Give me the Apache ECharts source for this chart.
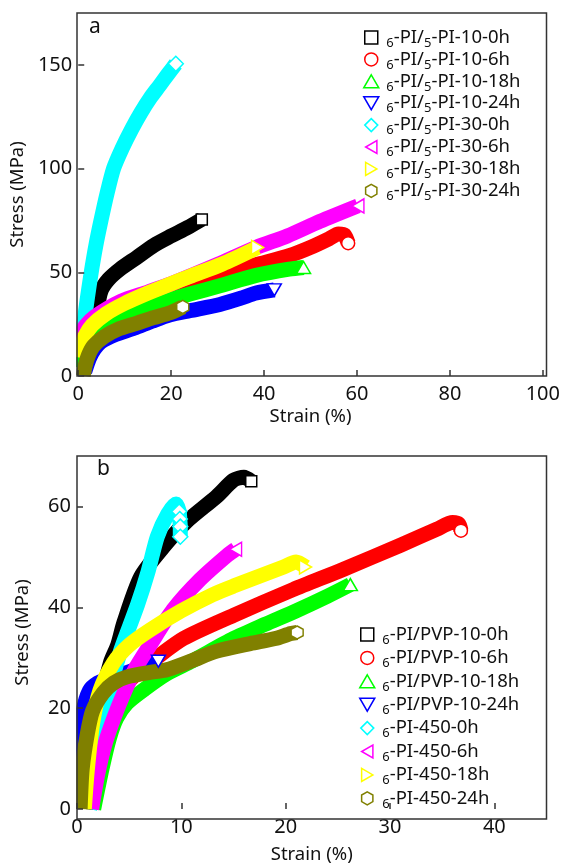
<!DOCTYPE html>
<html>
<head>
<meta charset="utf-8">
<script src="https://cdn.jsdelivr.net/npm/echarts@6/dist/echarts.min.js"></script>
<style>
html,body{margin:0;padding:0;background:#fff}
#chart{width:563px;height:865px}
</style>
</head>
<body>
<div id="chart"></div>
<script>
// ---- Panel a: 6-PI / 5-PI blends, points are [strain %, stress MPa] ----
const a_10_0h  = [[3.9,22],[4.2,33],[4.9,41],[6.5,46.5],[9,51.5],[12.5,57],[16.3,63],[20,67.5],[23.5,71.5],[26.6,75.5]];
const a_10_6h  = [[0,8],[1.5,15],[3,22],[6,28],[10,33],[15,37.5],[20,41.5],[25,45],[30.5,48.6],[38,53.5],[45.4,58],[50,62],[54,66.2],[56,68.5],[57.3,68],[58.1,64]];
const a_10_18h = [[0,4],[1,9],[2.5,15.5],[4.5,21.5],[7,26],[10,29],[12.7,31],[18,35.5],[24,39.5],[30.5,43.5],[38.3,48.5],[45.4,51.5],[48.5,52.3]];
const a_10_24h = [[1.4,2],[2.4,8.5],[3.5,13],[4.9,16.5],[8,20],[12,23],[16,26.5],[19.8,29.5],[24,31.5],[30.5,34.5],[35,37.5],[38.3,40],[42.2,41.5]];
const a_30_0h  = [[0,14],[0.5,19],[1.3,27],[2,38],[2.8,50],[3.8,63],[4.9,75],[6.2,88],[7.6,100],[9.5,110],[11.5,119],[13.5,127],[15.5,134],[17.5,140],[19.3,145.5],[21,150.5]];
const a_30_6h  = [[0,16.5],[0.7,20.5],[1.5,24],[3.5,28.5],[9.2,36],[15,40.5],[20,44.5],[30,53.8],[38.3,62],[45,67.5],[52,74.5],[60.2,82]];
const a_30_18h = [[0,9],[0.6,14],[1.5,19.5],[3,24.5],[6,30],[10,35],[15,40],[20,44.5],[24,48],[31,54],[38.6,62]];
const a_30_24h = [[1.1,0],[1.5,5],[2.2,10],[3.3,14.5],[5.6,19],[8.5,22.5],[12.7,25.5],[16,28],[19.8,30.5],[22.5,33.3]];

// ---- Panel b: 6-PI / PVP blends and 6-PI-450 ----
const b_pvp_0h  = [[0.8,0],[1.6,12],[2.4,22],[3.2,29],[3.9,32.5],[4.5,37],[6.1,46],[8.3,52],[10.5,57],[13.4,62],[15,65.2],[16,65.8],[16.7,65]];
const b_pvp_6h  = [[1.2,0],[2,10],[3,18],[4.5,24],[6,27.5],[7.3,29.5],[10.2,33.8],[15,38.4],[20.7,43.5],[25.5,47.5],[31,52.3],[34.5,55.5],[36,56.8],[36.6,56.5],[36.8,55.2]];
const b_pvp_18h = [[1.6,0],[2.4,8],[3.1,14],[3.8,18],[4.8,21],[6.5,23.8],[8.6,26.8],[11,29.3],[15,33.8],[18,36.6],[21,39.3],[24,42.2],[26.2,44.5]];
const b_pvp_24h = [[0,5],[0.2,12],[0.6,19.5],[1.2,23.5],[2,25],[3,25.8],[5,27.2],[7,28.7],[7.8,29.3]];
const b_450_0h  = [[1.2,0],[2,8],[2.6,18],[3.3,25],[4.2,31.5],[5.8,40.5],[6.8,47],[7.7,54],[8.7,58.5],[9.5,60.5],[9.8,59],[9.85,57.5],[9.9,56],[9.9,54]];
const b_450_6h  = [[1.4,0],[2,7],[2.7,13],[3.6,18.4],[4.5,23],[5.5,27.5],[7,32.5],[9.2,39.5],[11.8,45.5],[14.4,50.3],[15.2,51.5]];
const b_450_18h = [[0.7,0],[1.0,8],[1.5,17],[2.2,23.5],[3.5,29],[5,32.5],[7,35.5],[10,39.3],[13,42.5],[15,44.2],[19.8,48],[21,49],[21.9,48]];
const b_450_24h = [[0.3,0],[0.5,8],[1,15],[1.5,19.5],[2.5,23],[3.5,25],[4.8,26.2],[7.3,27.2],[8.6,27.6],[11,29.4],[13.4,31.3],[16.6,32.8],[19,33.8],[20.5,34.8],[21.1,35]];

// series names (legend order)
const aNames = ['6-PI/5-PI-10-0h','6-PI/5-PI-10-6h','6-PI/5-PI-10-18h','6-PI/5-PI-10-24h',
                '6-PI/5-PI-30-0h','6-PI/5-PI-30-6h','6-PI/5-PI-30-18h','6-PI/5-PI-30-24h'];
const bNames = ['6-PI/PVP-10-0h','6-PI/PVP-10-6h','6-PI/PVP-10-18h','6-PI/PVP-10-24h',
                '6-PI-450-0h','6-PI-450-6h','6-PI-450-18h','6-PI-450-24h'];
const aData = [a_10_0h,a_10_6h,a_10_18h,a_10_24h,a_30_0h,a_30_6h,a_30_18h,a_30_24h];
const bData = [b_pvp_0h,b_pvp_6h,b_pvp_18h,b_pvp_24h,b_450_0h,b_450_6h,b_450_18h,b_450_24h];
const bMarked = [1,1,1,1,4,1,1,1];   // how many trailing points carry an open marker

const colors = ['#000000','#ff0000','#00ff00','#0000ff','#00ffff','#ff00ff','#ffff00','#808000'];
const shapes = [
  'path://M0,0L10,0L10,10L0,10Z',                           // square
  'circle',
  'path://M5,0L10,8.66L0,8.66Z',                            // triangle up
  'path://M0,0L10,0L5,8.66Z',                               // triangle down
  'path://M5,0L10,5L5,10L0,5Z',                             // diamond
  'path://M8.66,0L8.66,10L0,5Z',                            // triangle left
  'path://M0,0L8.66,5L0,10Z',                               // triangle right
  'path://M5,0L9.33,2.5L9.33,7.5L5,10L0.67,7.5L0.67,2.5Z'   // hexagon
];
const markerSizes = [11, 13, [14, 12], [14, 12], 15, [12, 14], [12, 14], [12, 13]];

const FONT = 'Noto Sans';

function richLabel(name) {
  // leading "6" and the "5" after "PI/" are subscripts
  let m = name.match(/^6(-PI\/)5(-PI-.*)$/);
  if (m) return '{s|6}{n|' + m[1] + '}{s|5}{n|' + m[2] + '}';
  m = name.match(/^6(.*)$/);
  return '{s|6}{n|' + m[1] + '}';
}

function curve(name, i, pts, panel, marked) {
  const n = pts.length;
  return {
    type: 'line', name: name,
    xAxisIndex: panel, yAxisIndex: panel,
    smooth: 0.25, showSymbol: true, symbolSize: markerSizes[i],
    lineStyle: { color: colors[i], width: 15, cap: 'butt', join: 'round' },
    itemStyle: { color: '#ffffff', borderColor: colors[i], borderWidth: 1.5 },
    data: pts.map((p, k) => k >= n - marked ? { value: p, symbol: shapes[i] } : { value: p, symbol: 'none' }),
    emphasis: { disabled: true },
    z: 2
  };
}

function legendFor(names, left, top, gap) {
  return {
    orient: 'vertical', left: left, top: top, padding: 0,
    itemWidth: 20, itemHeight: 13, itemGap: gap, selectedMode: false,
    symbolKeepAspect: true,
    data: names.map((nm, i) => ({
      name: nm, icon: shapes[i],
      itemStyle: { color: '#ffffff', borderColor: colors[i], borderWidth: 1.5 }
    })),
    formatter: richLabel,
    textStyle: {
      color: '#111', fontFamily: FONT,
      rich: {
        n: { fontSize: 18.5, color: '#111', fontFamily: FONT },
        s: { fontSize: 13, color: '#111', fontFamily: FONT, padding: [11, 0, 0, 0] }
      }
    }
  };
}

function xAxisFor(panel, max, interval, showMax, gap) {
  return {
    gridIndex: panel, type: 'value', min: 0, max: max, interval: interval, z: 10,
    axisLine: { show: false },
    axisTick: { inside: true, length: 6, lineStyle: { color: '#333', width: 1.5 } },
    splitLine: { show: false },
    axisLabel: { fontSize: 20, color: '#111', margin: 8, fontFamily: FONT, showMaxLabel: showMax },
    name: 'Strain (%)', nameLocation: 'middle', nameGap: gap,
    nameTextStyle: { fontSize: 18.5, color: '#111', fontFamily: FONT }
  };
}
function yAxisFor(panel, max, interval) {
  return {
    gridIndex: panel, type: 'value', min: 0, max: max, interval: interval, z: 10,
    axisLine: { show: false },
    axisTick: { inside: true, length: 6, lineStyle: { color: '#333', width: 1.5 } },
    splitLine: { show: false },
    axisLabel: { fontSize: 20, color: '#111', margin: 6, fontFamily: FONT, showMaxLabel: false },
    name: 'Stress (MPa)', nameLocation: 'middle', nameGap: 45,
    nameTextStyle: { fontSize: 18.5, color: '#111', fontFamily: FONT }
  };
}

const GA = { left: 77, top: 13, width: 469.5, height: 363 };
const GB = { left: 77, top: 456, width: 469.5, height: 363 };

const chart = echarts.init(document.getElementById('chart'), null, { renderer: 'canvas' });
chart.setOption({
  animation: false,
  backgroundColor: '#ffffff',
  textStyle: { fontFamily: FONT },
  grid: [GA, GB],
  xAxis: [xAxisFor(0, 100, 20, true, 31), xAxisFor(1, 45, 10, false, 36)],
  yAxis: [yAxisFor(0, 175, 50), yAxisFor(1, 70, 20)],
  legend: [legendFor(aNames, 363, 28, 0.4), legendFor(bNames, 359, 625, 1.9)],
  series: aData.map((d, i) => curve(aNames[i], i, d, 0, 1))
    .concat(bData.map((d, i) => curve(bNames[i], i, d, 1, bMarked[i]))),
  graphic: [
    // white masks so the thick curves stop at the axes
    { type: 'rect', z: 5, silent: true, shape: { x: 60, y: 0, width: 16.3, height: 385 }, style: { fill: '#fff' } },
    { type: 'rect', z: 5, silent: true, shape: { x: 60, y: 376.8, width: 500, height: 8 }, style: { fill: '#fff' } },
    { type: 'rect', z: 5, silent: true, shape: { x: 60, y: 440, width: 16.3, height: 390 }, style: { fill: '#fff' } },
    { type: 'rect', z: 5, silent: true, shape: { x: 60, y: 819.8, width: 500, height: 8 }, style: { fill: '#fff' } },
    // plot frames
    { type: 'rect', z: 100, silent: true, shape: { x: GA.left, y: GA.top, width: GA.width, height: GA.height },
      style: { fill: 'none', stroke: '#333', lineWidth: 1.5 } },
    { type: 'rect', z: 100, silent: true, shape: { x: GB.left, y: GB.top, width: GB.width, height: GB.height },
      style: { fill: 'none', stroke: '#333', lineWidth: 1.5 } },
    // panel letters
    { type: 'text', z: 100, left: 89, top: 17, style: { text: 'a', fontSize: 21, fill: '#111', fontFamily: FONT } },
    { type: 'text', z: 100, left: 97, top: 459, style: { text: 'b', fontSize: 21, fill: '#111', fontFamily: FONT } }
  ]
});
</script>
</body>
</html>
